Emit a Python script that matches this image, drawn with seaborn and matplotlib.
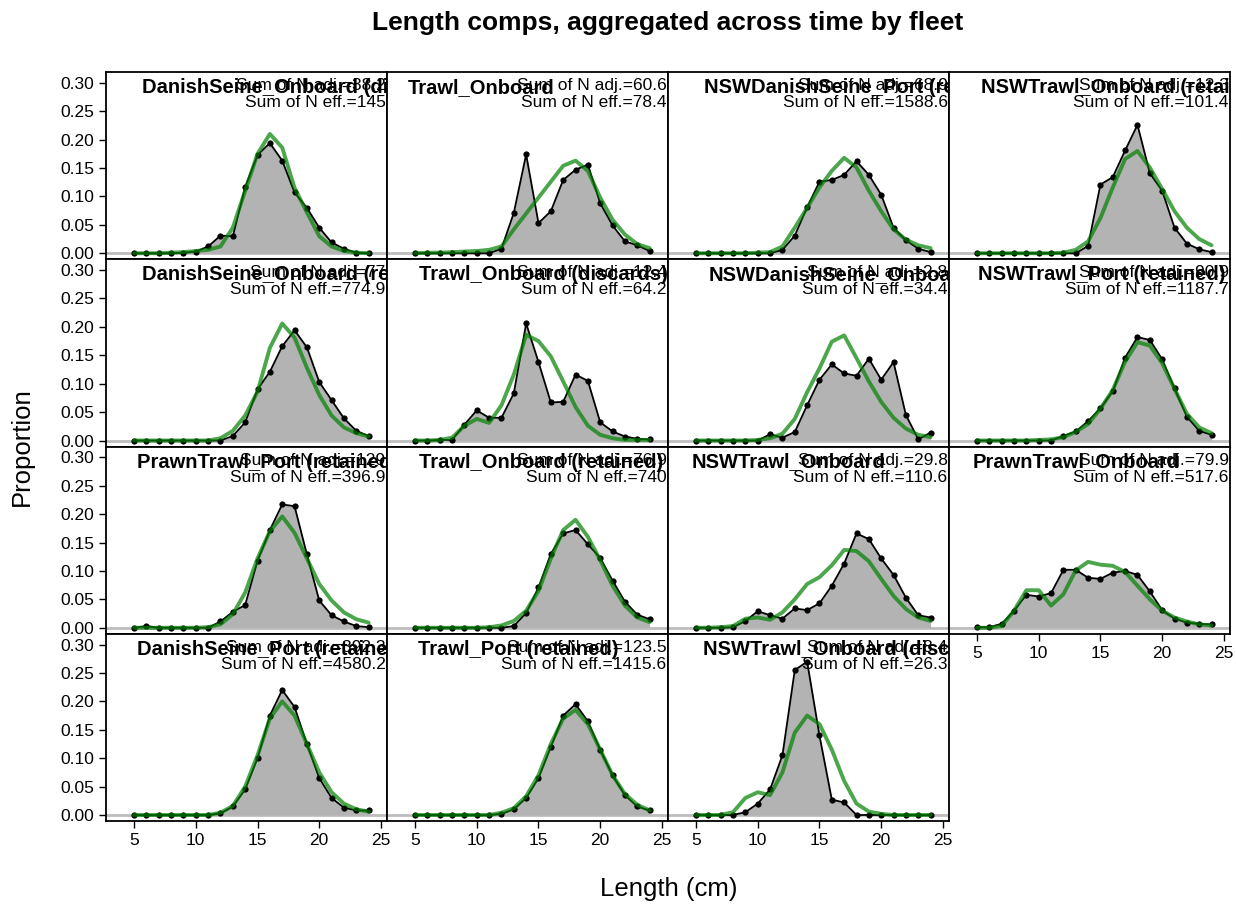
import numpy as np
import pandas as pd
import matplotlib
matplotlib.use("Agg")
import matplotlib.pyplot as plt
import seaborn as sns

lengths = list(range(5, 25))

fleets = [
    "DanishSeine_Onboard (discards)", "Trawl_Onboard",
    "NSWDanishSeine_Port (retained)", "NSWTrawl_Onboard (retained)",
    "DanishSeine_Onboard (retained)", "Trawl_Onboard (discards)",
    "NSWDanishSeine_Onboard", "NSWTrawl_Port (retained)",
    "PrawnTrawl_Port (retained)", "Trawl_Onboard (retained)",
    "NSWTrawl_Onboard", "PrawnTrawl_Onboard",
    "DanishSeine_Port (retained)", "Trawl_Port (retained)",
    "NSWTrawl_Onboard (discards)",
]
adj_labels = [
    "Sum of N adj.=38.2", "Sum of N adj.=60.6", "Sum of N adj.=68.9", "Sum of N adj.=12.3",
    "Sum of N adj.=77", "Sum of N adj.=12.4", "Sum of N adj.=2.8", "Sum of N adj.=90.9",
    "Sum of N adj.=129", "Sum of N adj.=76.9", "Sum of N adj.=29.8", "Sum of N adj.=79.9",
    "Sum of N adj.=392.3", "Sum of N adj.=123.5", "Sum of N adj.=8.4",
]
eff_labels = [
    "Sum of N eff.=145", "Sum of N eff.=78.4", "Sum of N eff.=1588.6", "Sum of N eff.=101.4",
    "Sum of N eff.=774.9", "Sum of N eff.=64.2", "Sum of N eff.=34.4", "Sum of N eff.=1187.7",
    "Sum of N eff.=396.9", "Sum of N eff.=740", "Sum of N eff.=110.6", "Sum of N eff.=517.6",
    "Sum of N eff.=4580.2", "Sum of N eff.=1415.6", "Sum of N eff.=26.3",
]

# observed / expected proportions, lengths 5..24
obs_ds_onb_disc = [0, 0, 0, 0, 0.001, 0.003, 0.012, 0.031, 0.030, 0.117, 0.173, 0.194, 0.163, 0.107, 0.080, 0.045, 0.019, 0.008, 0.001, 0]
exp_ds_onb_disc = [0, 0, 0, 0.001, 0.002, 0.004, 0.006, 0.012, 0.045, 0.110, 0.175, 0.210, 0.186, 0.115, 0.072, 0.030, 0.012, 0.004, 0.001, 0]
obs_tw_onb = [0, 0, 0, 0, 0, 0, 0, 0.008, 0.071, 0.174, 0.053, 0.074, 0.129, 0.147, 0.156, 0.088, 0.049, 0.021, 0.014, 0.004]
exp_tw_onb = [0, 0.001, 0.001, 0.002, 0.003, 0.004, 0.006, 0.012, 0.042, 0.070, 0.098, 0.126, 0.154, 0.163, 0.145, 0.098, 0.059, 0.033, 0.016, 0.009]
obs_nswds_port = [0, 0, 0, 0, 0, 0, 0, 0.006, 0.031, 0.081, 0.126, 0.129, 0.138, 0.162, 0.138, 0.103, 0.045, 0.023, 0.008, 0.002]
exp_nswds_port = [0, 0, 0, 0, 0, 0.001, 0.002, 0.012, 0.045, 0.080, 0.116, 0.145, 0.168, 0.151, 0.110, 0.074, 0.042, 0.024, 0.014, 0.009]
obs_nswtw_onb_ret = [0, 0, 0, 0, 0, 0, 0, 0, 0, 0.013, 0.121, 0.134, 0.181, 0.226, 0.141, 0.110, 0.045, 0.017, 0.007, 0.002]
exp_nswtw_onb_ret = [0, 0, 0, 0, 0, 0, 0, 0.001, 0.006, 0.021, 0.062, 0.116, 0.166, 0.180, 0.151, 0.113, 0.074, 0.045, 0.025, 0.014]
obs_ds_onb_ret = [0, 0, 0, 0, 0, 0, 0, 0, 0.008, 0.032, 0.090, 0.121, 0.166, 0.194, 0.164, 0.103, 0.071, 0.039, 0.017, 0.008]
exp_ds_onb_ret = [0, 0, 0, 0, 0, 0, 0, 0.004, 0.017, 0.044, 0.086, 0.163, 0.206, 0.181, 0.128, 0.080, 0.044, 0.023, 0.013, 0.007]
obs_tw_onb_disc = [0, 0, 0.001, 0.001, 0.028, 0.053, 0.040, 0.040, 0.083, 0.206, 0.138, 0.067, 0.068, 0.116, 0.105, 0.032, 0.016, 0.007, 0.003, 0.002]
exp_tw_onb_disc = [0, 0, 0.001, 0.005, 0.026, 0.038, 0.031, 0.062, 0.116, 0.186, 0.175, 0.148, 0.104, 0.059, 0.026, 0.010, 0.004, 0.001, 0.001, 0.001]
obs_nswds_onb = [0, 0, 0, 0, 0, 0, 0.011, 0.005, 0.015, 0.062, 0.107, 0.134, 0.118, 0.114, 0.144, 0.107, 0.138, 0.045, 0.002, 0.014]
exp_nswds_onb = [0, 0, 0, 0, 0, 0.001, 0.004, 0.012, 0.038, 0.085, 0.127, 0.174, 0.185, 0.145, 0.104, 0.068, 0.040, 0.021, 0.010, 0.006]
obs_nswtw_port = [0, 0, 0, 0, 0, 0, 0, 0.008, 0.016, 0.034, 0.057, 0.087, 0.146, 0.182, 0.177, 0.143, 0.092, 0.042, 0.017, 0.010]
exp_nswtw_port = [0, 0, 0, 0, 0, 0.001, 0.002, 0.006, 0.015, 0.029, 0.056, 0.089, 0.139, 0.173, 0.167, 0.136, 0.091, 0.047, 0.023, 0.013]
obs_pt_port = [0, 0.003, 0, 0, 0, 0, 0, 0.011, 0.028, 0.040, 0.118, 0.172, 0.217, 0.214, 0.129, 0.048, 0.022, 0.011, 0.003, 0.001]
exp_pt_port = [0, 0, 0, 0, 0, 0, 0.001, 0.006, 0.024, 0.062, 0.122, 0.170, 0.196, 0.167, 0.122, 0.077, 0.048, 0.027, 0.015, 0.009]
obs_tw_onb_ret = [0, 0, 0, 0, 0, 0, 0, 0, 0.003, 0.026, 0.071, 0.130, 0.166, 0.172, 0.147, 0.123, 0.083, 0.046, 0.023, 0.015]
exp_tw_onb_ret = [0, 0, 0, 0, 0, 0, 0.001, 0.004, 0.012, 0.030, 0.065, 0.122, 0.172, 0.190, 0.160, 0.119, 0.074, 0.039, 0.018, 0.010]
obs_nswtw_onb = [0, 0, 0, 0.001, 0.012, 0.029, 0.022, 0.016, 0.034, 0.031, 0.043, 0.074, 0.113, 0.166, 0.156, 0.122, 0.093, 0.053, 0.022, 0.018]
exp_nswtw_onb = [0, 0, 0.001, 0.003, 0.016, 0.018, 0.014, 0.027, 0.050, 0.077, 0.089, 0.110, 0.137, 0.135, 0.117, 0.086, 0.056, 0.033, 0.018, 0.012]
obs_pt_onb = [0.001, 0.001, 0.007, 0.030, 0.058, 0.055, 0.061, 0.102, 0.102, 0.088, 0.086, 0.097, 0.100, 0.093, 0.064, 0.031, 0.016, 0.009, 0.007, 0.006]
exp_pt_onb = [0, 0, 0.003, 0.030, 0.066, 0.066, 0.039, 0.059, 0.101, 0.116, 0.111, 0.109, 0.098, 0.074, 0.050, 0.030, 0.018, 0.011, 0.006, 0.004]
obs_ds_port = [0, 0, 0, 0, 0, 0, 0, 0.003, 0.015, 0.045, 0.100, 0.175, 0.220, 0.190, 0.125, 0.065, 0.030, 0.013, 0.008, 0.008]
exp_ds_port = [0, 0, 0, 0, 0, 0, 0, 0.004, 0.016, 0.050, 0.105, 0.170, 0.200, 0.175, 0.125, 0.075, 0.040, 0.020, 0.010, 0.006]
obs_tw_port = [0, 0, 0, 0, 0, 0, 0, 0.002, 0.010, 0.030, 0.065, 0.120, 0.175, 0.195, 0.165, 0.115, 0.070, 0.035, 0.015, 0.008]
exp_tw_port = [0, 0, 0, 0, 0, 0, 0, 0.004, 0.012, 0.033, 0.070, 0.125, 0.170, 0.185, 0.160, 0.115, 0.070, 0.037, 0.018, 0.008]
obs_nswtw_onb_disc = [0, 0, 0, 0, 0.005, 0.020, 0.045, 0.105, 0.255, 0.270, 0.140, 0.027, 0.022, 0, 0, 0, 0, 0, 0, 0]
exp_nswtw_onb_disc = [0, 0, 0, 0.005, 0.030, 0.040, 0.035, 0.075, 0.145, 0.175, 0.160, 0.115, 0.060, 0.020, 0.006, 0.002, 0, 0, 0, 0]

obs_all = [obs_ds_onb_disc, obs_tw_onb, obs_nswds_port, obs_nswtw_onb_ret,
           obs_ds_onb_ret, obs_tw_onb_disc, obs_nswds_onb, obs_nswtw_port,
           obs_pt_port, obs_tw_onb_ret, obs_nswtw_onb, obs_pt_onb,
           obs_ds_port, obs_tw_port, obs_nswtw_onb_disc]
exp_all = [exp_ds_onb_disc, exp_tw_onb, exp_nswds_port, exp_nswtw_onb_ret,
           exp_ds_onb_ret, exp_tw_onb_disc, exp_nswds_onb, exp_nswtw_port,
           exp_pt_port, exp_tw_onb_ret, exp_nswtw_onb, exp_pt_onb,
           exp_ds_port, exp_tw_port, exp_nswtw_onb_disc]

df = pd.concat([
    pd.DataFrame({"fleet": f, "length": lengths, "obs": o, "exp": e})
    for f, o, e in zip(fleets, obs_all, exp_all)
], ignore_index=True)

# where each panel label starts (axes fraction)
title_x = [0.128, 0.075, 0.128, 0.114, 0.128, 0.114, 0.146, 0.103,
           0.110, 0.114, 0.085, 0.085, 0.110, 0.110, 0.125]

sns.set_style("ticks")
plt.rcParams["font.family"] = ["Liberation Sans", "DejaVu Sans"]
plt.rcParams["text.color"] = "black"
plt.rcParams["axes.labelcolor"] = "black"

fig, axes = plt.subplots(4, 4, figsize=(12.36, 9.06), dpi=100, sharex=True, sharey=True)
fig.subplots_adjust(left=0.0858, right=0.9951, top=0.9205, bottom=0.0938, wspace=0, hspace=0)

green = (0, 0.5, 0, 0.7)
for i, ax in enumerate(axes.flat):
    r, c = divmod(i, 4)
    if i >= len(fleets):
        ax.set_visible(False)
        continue
    d = df[df["fleet"] == fleets[i]]
    ax.axhline(0, color="#bdbdbd", lw=2, zorder=0)
    ax.fill_between(d["length"], 0, d["obs"], color="#b3b3b3", lw=0, zorder=1)
    sns.lineplot(data=d, x="length", y="obs", ax=ax, color="black", lw=1.3,
                 marker="o", markersize=4.5, markeredgewidth=0, zorder=3)
    sns.lineplot(data=d, x="length", y="exp", ax=ax, color=green, lw=2.8, zorder=4)
    ax.set_xlim(2.73, 25.49)
    ax.set_ylim(-0.0106, 0.319)
    ax.set_xlabel("")
    ax.set_ylabel("")
    for s in ax.spines.values():
        s.set_visible(True)
        s.set_color("black")
        s.set_linewidth(1.3)
    show_x = (r == 3) or (r == 2 and c == 3)
    ax.tick_params(axis="x", direction="out", length=5, width=1, labelsize=12.5,
                   bottom=show_x, labelbottom=show_x, colors="black")
    ax.tick_params(axis="y", direction="out", length=5, width=1, labelsize=12.5,
                   left=(c == 0), labelleft=(c == 0), colors="black")
    ax.text(title_x[i], 0.968, fleets[i], transform=ax.transAxes, ha="left", va="top",
            fontsize=14.5, fontweight="bold", clip_on=True, zorder=6, color="black")
    ax.text(0.995, 0.968, adj_labels[i], transform=ax.transAxes, ha="right", va="top",
            fontsize=12.5, clip_on=True, zorder=6, color="black")
    ax.text(0.995, 0.877, eff_labels[i], transform=ax.transAxes, ha="right", va="top",
            fontsize=12.5, clip_on=True, zorder=6, color="black")

axes[0, 0].set_xticks([5, 10, 15, 20, 25])
axes[0, 0].set_yticks(np.arange(0, 0.31, 0.05))
axes[0, 0].set_yticklabels([f"{v:.2f}" for v in np.arange(0, 0.31, 0.05)])

fig.text(0.54, 0.975, "Length comps, aggregated across time by fleet", ha="center", va="center",
         fontsize=19, fontweight="bold", color="black")
fig.text(0.018, 0.507, "Proportion", rotation=90, ha="center", va="center", fontsize=18.5,
         color="black")
fig.text(0.541, 0.019, "Length (cm)", ha="center", va="center", fontsize=18.5, color="black")

plt.savefig("out.png", dpi=100)
plt.close(fig)
